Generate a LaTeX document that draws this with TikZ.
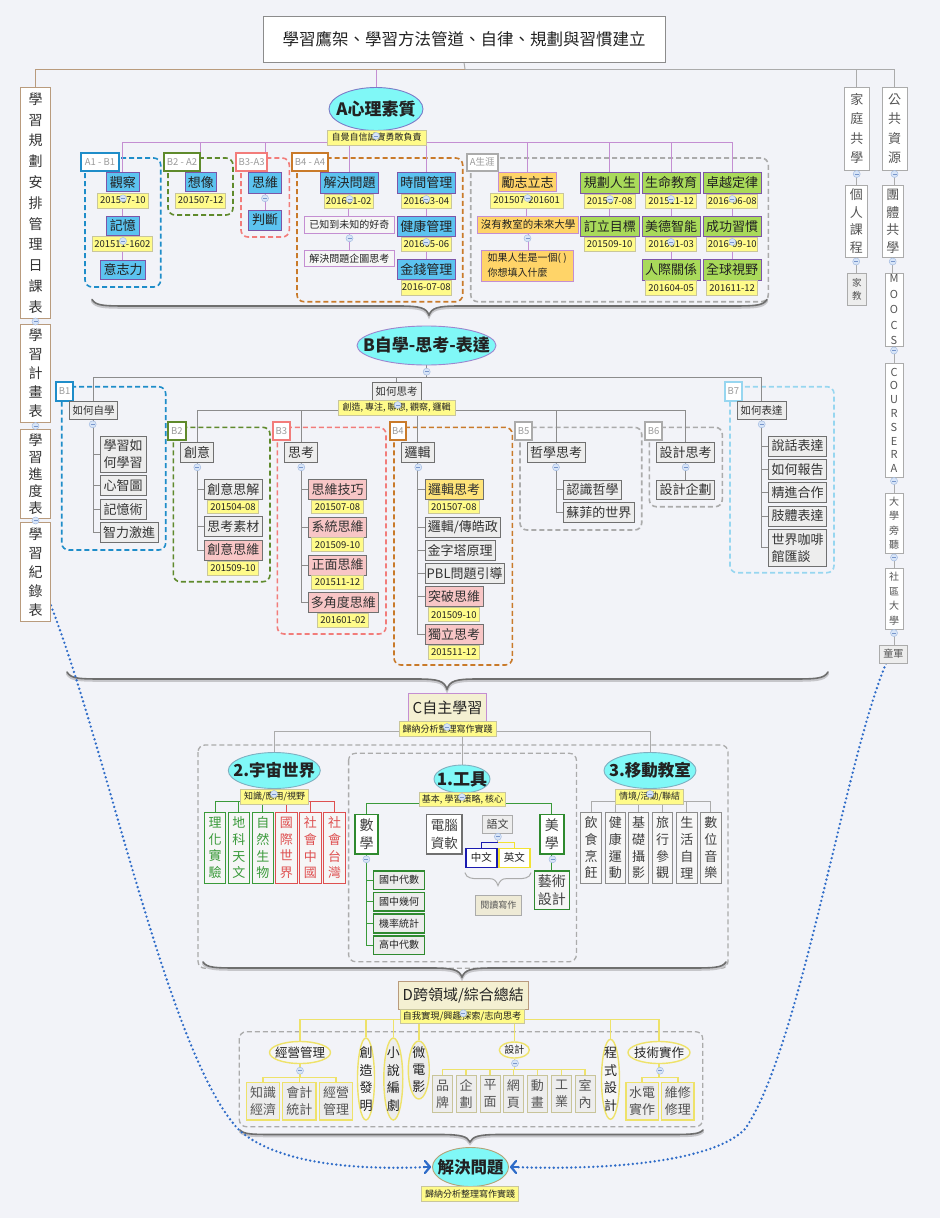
\documentclass[tikz,border=0pt]{standalone}
\usepackage{fontspec}
\setmainfont{Noto Sans CJK TC}
\usetikzlibrary{arrows.meta,shapes.geometric}
\pgfdeclarelayer{bg}
\pgfdeclarelayer{lines}
\pgfsetlayers{bg,lines,main}
\definecolor{bgc}{HTML}{F2F3F8}
\definecolor{txt}{HTML}{222222}
\definecolor{tanc}{HTML}{B99B7D}
\definecolor{purl}{HTML}{C48ED2}
\definecolor{cblue}{HTML}{5CC3F0}
\definecolor{cpur}{HTML}{7D55A8}
\definecolor{cyel}{HTML}{FFFB8A}
\definecolor{cyel2}{HTML}{FFE47A}
\definecolor{cyelb}{HTML}{C9C69C}
\definecolor{cgreen}{HTML}{A9DA5A}
\definecolor{corange}{HTML}{FFD468}
\definecolor{cgray}{HTML}{EDEDED}
\definecolor{cgrayb}{HTML}{707070}
\definecolor{cpink}{HTML}{F8C6C6}
\definecolor{clight}{HTML}{F6F6F6}
\definecolor{labtxt}{HTML}{9A9A9A}
\definecolor{gblue}{HTML}{1F8DC9}
\definecolor{ggreen}{HTML}{5F8A2C}
\definecolor{gred}{HTML}{F27C7A}
\definecolor{gorange}{HTML}{C97A2A}
\definecolor{ggray}{HTML}{ABABAB}
\definecolor{glblue}{HTML}{97D6F0}
\definecolor{lineg}{HTML}{8C8C8C}
\definecolor{ccyan}{HTML}{80F8F7}
\definecolor{colf}{HTML}{D8E5F7}
\definecolor{colb}{HTML}{A5BDE3}
\definecolor{colm}{HTML}{7896CC}
\definecolor{mgreen}{HTML}{3A9A3A}
\definecolor{mred}{HTML}{DE5050}
\definecolor{mgreenb}{HTML}{2F8A2F}
\definecolor{cbeige}{HTML}{F4F0D2}
\definecolor{cbeige2}{HTML}{EEEAD6}
\definecolor{dyel}{HTML}{EEE26A}
\definecolor{dgb}{HTML}{C8C49A}
\definecolor{dotblue}{HTML}{2F6CC8}
\definecolor{zhblue}{HTML}{1A1AB0}
\definecolor{enyel}{HTML}{F2E232}
\definecolor{rtext}{HTML}{555555}
\definecolor{ellA}{HTML}{7B7BC8}
\definecolor{ellB}{HTML}{9C86CF}
\definecolor{ellC}{HTML}{7FAFC0}
\definecolor{ellS}{HTML}{B3A275}
\definecolor{bracec}{HTML}{6E6E6E}
\definecolor{bracesc}{HTML}{C6C6CA}
\newcommand\setfs[2]{\fontsize{#1}{#2}\selectfont}
\newcommand\nbox[7]{\node[#2, minimum width={(#5)-(#3)}, minimum height={(#6)-(#4)}] (#1) at ({((#3)+(#5))/2},{((#4)+(#6))/2}) {#7};}
\newcommand\enode[8]{\node[#2, minimum width=#5, minimum height=#6] (#1) at (#3,#4) {};\node[inner sep=0pt, align=center, font=#7, text=txt] (#1t) at (#1.center) {#8};}
\newcommand\hbrace[6]{%
\draw[bracesh] (#1,#3+1.5) .. controls (#1+4,#4+1.5) and (#1+12,#4+1.5) .. (#1+40,#4+1.5) -- (#5-30,#4+1.5) .. controls (#5-8,#4+1.5) and (#5-3,#4+3.5) .. (#5,#6+1.5) .. controls (#5+3,#4+3.5) and (#5+8,#4+1.5) .. (#5+30,#4+1.5) -- (#2-40,#4+1.5) .. controls (#2-12,#4+1.5) and (#2-4,#4+1.5) .. (#2,#3+1.5);
\draw[bracemain] (#1,#3) .. controls (#1+4,#4) and (#1+12,#4) .. (#1+40,#4) -- (#5-30,#4) .. controls (#5-8,#4) and (#5-3,#4+2) .. (#5,#6) .. controls (#5+3,#4+2) and (#5+8,#4) .. (#5+30,#4) -- (#2-40,#4) .. controls (#2-12,#4) and (#2-4,#4) .. (#2,#3);}
\newcommand\vcon[3]{\draw[#1] (#2.south) -- (#2.south |- #3.north);}
\begin{document}
\begin{tikzpicture}[x=1pt,y=-1pt,
 nbase/.style={draw, rectangle, inner sep=0.5pt, text=txt},
 ncb/.style={nbase, fill=cblue, draw=cpur, line width=0.9pt, font=\setfs{13}{15}},
 ncg/.style={nbase, fill=cgreen, draw=cpur, line width=0.9pt, font=\setfs{13}{15}},
 nco/.style={nbase, fill=corange, draw=purl, line width=0.9pt, font=\setfs{13}{15}},
 nlt/.style={nbase, fill=clight, draw=purl, line width=0.9pt, font=\setfs{10}{12}},
 ndt/.style={nbase, fill=cyel, draw=cyelb, line width=0.5pt, font=\setfs{9.5}{11}},
 ntag/.style={nbase, fill=cyel, draw=cyelb, line width=0.5pt, font=\setfs{9}{10}},
 ngc/.style={nbase, fill=cgray, draw=cgrayb, line width=0.8pt, font=\setfs{13}{17}, text=black!80},
 npk/.style={ngc, fill=cpink},
 nglab/.style={nbase, fill=white, line width=1.8pt, text=labtxt, font=\setfs{9.5}{10}},
 ngbox/.style={rounded corners=7pt, line width=1.6pt, dash pattern=on 5pt off 3pt},
 nell/.style={ellipse, draw, inner sep=0pt, fill=ccyan, line width=0.9pt},
 lbox/.style={nbase, fill=white, draw=tanc, line width=0.9pt, align=center, text=black!80},
 rbox/.style={nbase, fill=white, draw=ggray, line width=0.8pt, align=center, text=rtext},
 nvb/.style={nbase, fill=clight, line width=1pt, align=center, font=\setfs{13}{16.8}},
 nmb/.style={nbase, fill=cgray, draw=mgreenb, line width=1.6pt, font=\setfs{10}{11}},
 dell/.style={ellipse, draw=dyel, fill=clight, line width=1.4pt, inner sep=0pt},
 dvb/.style={nbase, fill=cgray, draw=dyel, line width=1.4pt, align=center, font=\setfs{13}{17}, text=rtext},
 ncol/.style={circle, inner sep=0pt, minimum size=7pt, fill=colf, draw=colb, line width=0.5pt,
   path picture={\draw[colm, line width=0.7pt] ([xshift=-2pt]path picture bounding box.center) -- ([xshift=2pt]path picture bounding box.center);}},
 apl/.style={draw=purl, line width=1pt},
 bpl/.style={draw=lineg, line width=0.9pt},
 cpl/.style={draw=ggray, line width=1pt},
 tpl/.style={draw=tanc, line width=1pt},
 grl/.style={draw=mgreen, line width=1pt},
 rdl/.style={draw=mred, line width=1pt},
 ydl/.style={draw=dyel, line width=1.4pt},
 bracemain/.style={draw=bracec, line width=1.6pt, line cap=round},
 bracesh/.style={draw=bracesc, line width=2.6pt, line cap=round},
 dotline/.style={draw=dotblue, line width=2.6pt, dash pattern=on 0pt off 4.4pt, line cap=round},
 dottip/.style={draw=dotblue, line width=2.2pt, -{Straight Barb[length=5pt,width=12pt,line width=2.2pt,round]}}
]
\begin{pgfonlayer}{bg}
\fill[bgc] (0,0) rectangle (940,1218);
\end{pgfonlayer}
\useasboundingbox (0,0) rectangle (940,1218);

% ---------- title ----------
\nbox{title}{nbase, fill=white, draw=lineg, line width=0.8pt, font=\setfs{16.5}{18}}{263}{16}{665}{62}{學習鷹架、學習方法管道、自律、規劃與習慣建立}
\coordinate (Tb) at (465,69);

% ---------- left column ----------
\nbox{L1}{lbox, font=\setfs{14}{20.8}}{20.5}{87.5}{50.5}{318.5}{學\\習\\規\\劃\\安\\排\\管\\理\\日\\課\\表}
\nbox{L2}{lbox, font=\setfs{14}{19}}{20.5}{324.5}{50.5}{422.5}{學\\習\\計\\畫\\表}
\nbox{L3}{lbox, font=\setfs{14}{17}}{20.5}{429.5}{50.5}{518.5}{學\\習\\進\\度\\表}
\nbox{L4}{lbox, font=\setfs{14}{19}}{20.5}{522.5}{50.5}{621}{學\\習\\紀\\錄\\表}

% ---------- right columns ----------
\nbox{fam}{rbox, font=\setfs{13}{19.5}}{844}{87}{869.5}{170}{家\\庭\\共\\學}
\nbox{pub}{rbox, font=\setfs{13}{19.5}}{882}{87}{907}{170}{公\\共\\資\\源}
\nbox{per}{rbox, font=\setfs{13}{17.5}}{845.5}{185.5}{867}{257}{個\\人\\課\\程}
\nbox{tut}{rbox, fill=cgray, font=\setfs{9.5}{13}}{847.5}{273.5}{866}{305}{家\\教}
\nbox{grp}{rbox, font=\setfs{13}{17.5}}{882}{185.5}{903.5}{257}{團\\體\\共\\學}
\nbox{moocs}{rbox, font=\setfs{11}{15.5}}{885}{273.5}{903}{346.5}{M\\O\\O\\C\\S}
\nbox{cour}{rbox, font=\setfs{11}{13.8}}{885}{363.5}{903}{477}{C\\O\\U\\R\\S\\E\\R\\A}
\nbox{aud}{rbox, font=\setfs{10}{14.5}}{885}{493}{903}{553}{大\\學\\旁\\聽}
\nbox{comm}{rbox, font=\setfs{10}{14.5}}{885}{568}{903}{629}{社\\區\\大\\學}
\nbox{scout}{rbox, fill=cgray, font=\setfs{10}{12}}{879.5}{645}{907}{663}{童軍}

% ---------- A ----------
\enode{Aell}{nell, draw=ellA}{376}{109}{94}{43}{\bfseries\setfs{17}{18}}{A心理素質}
\nbox{Atag}{ntag}{327}{130}{426}{145}{自覺自信誠實勇敢負責}
\coordinate (Ab) at (376,142);

\nbox{gA1}{nglab, draw=gblue}{81}{153}{119}{171}{A1 - B1}
\nbox{obs}{ncb}{106.7}{172.7}{139}{191.7}{觀察}
\nbox{obsd}{ndt}{97}{193}{148.7}{208}{201507-10}
\nbox{mem}{ncb}{106.7}{216.7}{139}{235}{記憶}
\nbox{memd}{ndt}{92}{236.7}{152.7}{251.7}{201511-1602}
\nbox{will}{ncb}{100.7}{260}{145.7}{279.3}{意志力}

\nbox{gA2}{nglab, draw=ggreen}{164}{153}{200}{171}{B2 - A2}
\nbox{ima}{ncb}{185}{172.7}{216.7}{191.7}{想像}
\nbox{imad}{ndt}{175.7}{193}{225.7}{208}{201507-12}

\nbox{gA3}{nglab, draw=gred}{236}{153}{267.3}{171}{B3-A3}
\nbox{thk}{ncb}{248.3}{172.7}{281.7}{193.3}{思維}
\nbox{jud}{ncb}{248.3}{210}{281.7}{230}{判斷}

\nbox{gA4}{nglab, draw=gorange}{291.7}{153}{328.3}{171}{B4 - A4}
\nbox{prob}{ncb}{320.7}{172.7}{378.3}{193.3}{解決問題}
\nbox{probd}{ndt}{324}{194}{373.3}{208}{201601-02}
\nbox{cur}{nlt}{304.3}{216.7}{394.3}{233.3}{已知到未知的好奇}
\nbox{att}{nlt}{304.3}{250}{394.3}{266.7}{解決問題企圖思考}
\nbox{time}{ncb}{397.7}{172.7}{455}{193.3}{時間管理}
\nbox{timed}{ndt}{401}{194}{451.7}{208}{201603-04}
\nbox{heal}{ncb}{397.7}{216}{455}{236.7}{健康管理}
\nbox{heald}{ndt}{401}{237.3}{451.7}{251.7}{201605-06}
\nbox{mon}{ncb}{397.7}{259.3}{455}{279.3}{金錢管理}
\nbox{mond}{ndt}{401}{280}{451.7}{295}{2016-07-08}

\nbox{gA5}{nglab, draw=ggray}{466.7}{154}{497.7}{170.7}{A生涯}
\nbox{asp}{nco}{498.3}{172.7}{556.7}{191.7}{勵志立志}
\nbox{aspd}{ndt}{490}{193}{563.3}{208}{201507-201601}
\nbox{uni}{nco, font=\setfs{10.5}{12}}{477.7}{216}{578.3}{233.3}{沒有教室的未來大學}
\nbox{life}{nco, font=\setfs{10}{15}, align=left}{481}{250}{573.3}{281}{如果人生是一個( )\\你想填入什麼}
\nbox{plan}{ncg}{580.7}{172.7}{639}{193.3}{規劃人生}
\nbox{pland}{ndt}{584.3}{194.3}{635}{208}{201507-08}
\nbox{goal}{ncg}{580.7}{216.7}{639}{236.7}{訂立目標}
\nbox{goald}{ndt}{584.3}{237.3}{635}{251.7}{201509-10}
\nbox{edu}{ncg}{642.3}{172.7}{700}{193.3}{生命教育}
\nbox{edud}{ndt}{645.7}{194.3}{696.7}{208}{201511-12}
\nbox{vir}{ncg}{642.3}{216.7}{700}{236.7}{美德智能}
\nbox{vird}{ndt}{645.7}{237.3}{696.7}{251.7}{201601-03}
\nbox{rel}{ncg}{642.3}{259.3}{700}{280}{人際關係}
\nbox{reld}{ndt}{645.7}{280.7}{696.7}{295}{201604-05}
\nbox{exc}{ncg}{703.3}{172.7}{761}{193.3}{卓越定律}
\nbox{excd}{ndt}{706.7}{194.3}{757.7}{208}{2016-06-08}
\nbox{hab}{ncg}{703.3}{216.7}{761}{236.7}{成功習慣}
\nbox{habd}{ndt}{706.7}{237.3}{757.7}{251.7}{2016-09-10}
\nbox{glo}{ncg}{703.3}{259.3}{761}{280}{全球視野}
\nbox{glod}{ndt}{706.7}{280.7}{757.7}{295}{201611-12}

% ---------- B ----------
\enode{Bell}{nell, draw=ellB}{426.5}{345.5}{139}{39}{\bfseries\setfs{17}{18}}{B自學-思考-表達}
\coordinate (Bb) at (426.5,377.3);

\nbox{gB1}{nglab, draw=gblue}{56}{381.7}{73.3}{400.7}{B1}
\nbox{hs}{ngc, font=\setfs{10.5}{12}}{69.3}{401.7}{117.7}{419.3}{如何自學}
\nbox{hs1}{ngc, align=left}{100}{436}{146}{472.7}{學習如\\何學習}
\nbox{hs2}{ngc}{100}{475.7}{146}{495.7}{心智圖}
\nbox{hs3}{ngc}{100}{499.3}{146}{519.3}{記憶術}
\nbox{hs4}{ngc}{100}{522.3}{158.3}{542.3}{智力激進}

\nbox{ht}{ngc, font=\setfs{10.5}{12}}{372.3}{382.7}{421}{400.7}{如何思考}
\nbox{httag}{ntag}{338.3}{400.7}{455}{415}{創造, 專注, 聯想, 觀察, 邏輯}
\coordinate (Hb) at (396.7,410);

\nbox{gB2}{nglab, draw=ggreen}{168.3}{422.3}{185.7}{440}{B2}
\nbox{cre}{ngc}{180.7}{442.7}{213.3}{462.7}{創意}
\nbox{cre1}{ngc}{204.3}{479.3}{262.3}{499}{創意思解}
\nbox{cre1d}{ndt}{207.7}{500}{258.3}{513.3}{201504-08}
\nbox{cre2}{ngc}{204.3}{516.7}{262.3}{536.7}{思考素材}
\nbox{cre3}{npk}{204.3}{540}{262.3}{560}{創意思維}
\nbox{cre3d}{ndt}{207.7}{561}{258.3}{575}{201509-10}

\nbox{gB3}{nglab, draw=gred}{272.7}{422.3}{290}{440}{B3}
\nbox{tk}{ngc}{284.3}{442.7}{317.7}{462.7}{思考}
\nbox{tk1}{npk}{308.3}{479.3}{366.7}{499.3}{思維技巧}
\nbox{tk1d}{ndt}{311.7}{500}{363.3}{513.3}{201507-08}
\nbox{tk2}{npk}{308.3}{517}{366.7}{537}{系統思維}
\nbox{tk2d}{ndt}{311.7}{537.7}{363.3}{551.7}{201509-10}
\nbox{tk3}{npk}{308.3}{555}{366.7}{575}{正面思維}
\nbox{tk3d}{ndt}{311.7}{575.7}{363.3}{589.3}{201511-12}
\nbox{tk4}{npk}{308.3}{592.7}{378.3}{612.7}{多角度思維}
\nbox{tk4d}{ndt}{317.7}{613.3}{368.3}{627.3}{201601-02}

\nbox{gB4}{nglab, draw=gorange}{389.7}{422.3}{406}{440}{B4}
\nbox{lg}{ngc}{401}{442.7}{434.3}{462.7}{邏輯}
\nbox{lg1}{ngc, fill=cyel2}{425}{479.3}{483.3}{499.3}{邏輯思考}
\nbox{lg1d}{ndt}{428.3}{500}{479.3}{513.3}{201507-08}
\nbox{lg2}{ngc}{425}{517}{500.7}{537}{邏輯/傳皓政}
\nbox{lg3}{ngc}{425}{540.7}{495}{560}{金字塔原理}
\nbox{lg4}{ngc}{425}{563.3}{504.3}{583.3}{PBL問題引導}
\nbox{lg5}{npk}{425}{586.7}{483.3}{606.7}{突破思維}
\nbox{lg5d}{ndt}{428.3}{607.7}{479.3}{621.7}{201509-10}
\nbox{lg6}{npk}{425}{624.3}{483.3}{644.3}{獨立思考}
\nbox{lg6d}{ndt}{428.3}{645}{479.3}{659}{201511-12}

\nbox{gB5}{nglab, draw=ggray}{515}{422.3}{532.3}{440}{B5}
\nbox{ph}{ngc}{527.3}{442.7}{585}{462.7}{哲學思考}
\nbox{ph1}{ngc}{563.3}{480}{621.7}{499.3}{認識哲學}
\nbox{ph2}{ngc}{563.3}{502.7}{634.3}{522.7}{蘇菲的世界}

\nbox{gB6}{nglab, draw=ggray}{645}{422.3}{662.3}{440}{B6}
\nbox{ds}{ngc}{656.7}{442.7}{714.3}{462.7}{設計思考}
\nbox{ds1}{ngc}{656.7}{480}{714.3}{499.3}{設計企劃}

\nbox{gB7}{nglab, draw=glblue}{725}{382.3}{741.7}{400.7}{B7}
\nbox{ex}{ngc, font=\setfs{10.5}{12}}{737.3}{401.7}{786}{419.3}{如何表達}
\nbox{ex1}{ngc}{768.3}{436}{826.7}{456}{說話表達}
\nbox{ex2}{ngc}{768.3}{459.3}{826.7}{479.3}{如何報告}
\nbox{ex3}{ngc}{768.3}{482.7}{826.7}{502.7}{精進合作}
\nbox{ex4}{ngc}{768.3}{506}{826.7}{526}{肢體表達}
\nbox{ex5}{ngc, align=left}{768.3}{529.3}{826.7}{566}{世界咖啡\\館匯談}

% ---------- C ----------
\nbox{Cbox}{nbase, fill=cbeige, draw=purl, line width=1pt, font=\setfs{15}{16}}{408.6}{693.3}{486.4}{721.7}{C自主學習}
\nbox{Ctag}{ntag}{399}{721.7}{496}{736}{歸納分析整理寫作實踐}
\coordinate (Cb) at (447,731.7);

\enode{U}{nell, draw=ellC}{274.3}{770.5}{92}{36}{\bfseries\setfs{16.5}{17}}{2.宇宙世界}
\nbox{Utag}{ntag}{240.7}{789.3}{308.6}{804}{知識/應用/視野}
\coordinate (Ub) at (274.3,801.7);
\nbox{u1}{nvb, draw=mgreen, text=mgreen}{204.3}{812.3}{225.7}{883.3}{理\\化\\實\\驗}
\nbox{u2}{nvb, draw=mgreen, text=mgreen}{228.2}{812.3}{249.6}{883.3}{地\\科\\天\\文}
\nbox{u3}{nvb, draw=mgreen, text=mgreen}{252.1}{812.3}{273.6}{883.3}{自\\然\\生\\物}
\nbox{u4}{nvb, draw=mred, text=mred}{275.7}{812.3}{297.1}{883.3}{國\\際\\世\\界}
\nbox{u5}{nvb, draw=mred, text=mred}{299.6}{812.3}{321}{883.3}{社\\會\\中\\國}
\nbox{u6}{nvb, draw=mred, text=mred}{323.9}{812.3}{345.4}{883.3}{社\\會\\台\\灣}

\enode{T}{nell, draw=ellC}{462}{779}{56}{28}{\bfseries\setfs{17}{18}}{1.工具}
\nbox{Ttag}{ntag}{419.3}{792.7}{505.7}{806}{基本, 學習策略, 核心}
\coordinate (Tbb) at (462,803.3);
\nbox{math}{nbase, fill=white, draw=mgreenb, line width=1.6pt, align=center, font=\setfs{14}{18}, text=black!75}{355}{814.3}{378.2}{854}{數\\學}
\nbox{m1}{nmb}{373.6}{870.7}{424.6}{889.3}{國中代數}
\nbox{m2}{nmb}{373.6}{892.3}{424.6}{911}{國中幾何}
\nbox{m3}{nmb}{373.6}{914}{424.6}{932.7}{機率統計}
\nbox{m4}{nmb}{373.6}{935.7}{424.6}{954.3}{高中代數}
\nbox{comp}{nbase, fill=white, draw=cgrayb, line width=1.4pt, align=center, font=\setfs{13.5}{18}, text=black!75}{426.4}{814.3}{462.1}{854}{電腦\\資軟}
\nbox{lang}{nbase, fill=cgray, draw=ggray, line width=1pt, font=\setfs{11}{12}, text=black!75}{482.9}{815}{512.1}{833.3}{語文}
\coordinate (Lb) at (497.5,842.7);
\nbox{zh}{nbase, fill=white, draw=zhblue, line width=1.6pt, font=\setfs{10.5}{12}}{465.7}{848.3}{496.8}{867.3}{中文}
\nbox{en}{nbase, fill=white, draw=enyel, line width=1.6pt, font=\setfs{10.5}{12}}{498.9}{848.3}{530}{867.3}{英文}
\nbox{rw}{nbase, fill=cbeige2, draw=ggray, line width=0.8pt, font=\setfs{9}{10}, text=rtext}{475.7}{895}{521}{915}{閱讀寫作}
\nbox{aes}{nbase, fill=white, draw=mgreenb, line width=1.6pt, align=center, font=\setfs{14}{18}, text=black!75}{540}{814.3}{563.9}{854}{美\\學}
\nbox{art}{nbase, fill=clight, draw=mgreenb, line width=1.6pt, align=center, font=\setfs{14}{18}, text=black!75}{534.3}{870.7}{569.3}{909.3}{藝術\\設計}

\enode{M}{nell, draw=ellC}{650}{770.5}{92}{36}{\bfseries\setfs{16.5}{17}}{3.移動教室}
\nbox{Mtag}{ntag}{615.7}{789.3}{683.6}{804}{情境/活動/聯結}
\coordinate (Mb) at (650,801.7);
\nbox{v1}{nvb, draw=lineg, text=black!75}{580.7}{812.3}{601.4}{883.3}{飲\\食\\烹\\飪}
\nbox{v2}{nvb, draw=lineg, text=black!75}{605}{812.3}{625.7}{883.3}{健\\康\\運\\動}
\nbox{v3}{nvb, draw=lineg, text=black!75}{628.2}{812.3}{648.9}{883.3}{基\\礎\\攝\\影}
\nbox{v4}{nvb, draw=lineg, text=black!75}{652.1}{812.3}{672.9}{883.3}{旅\\行\\參\\觀}
\nbox{v5}{nvb, draw=lineg, text=black!75}{676.4}{812.3}{697.1}{883.3}{生\\活\\自\\理}
\nbox{v6}{nvb, draw=lineg, text=black!75}{700.4}{812.3}{721.1}{883.3}{數\\位\\音\\樂}

% ---------- D ----------
\nbox{Dbox}{nbase, fill=cbeige, draw=tanc, line width=1pt, font=\setfs{15}{16}}{398.3}{981.7}{528.3}{1009.3}{D跨領域/綜合總結}
\nbox{Dtag}{ntag, font=\setfs{9.3}{10}}{400}{1009.3}{524}{1023.3}{自我實現/興趣探索/志向思考}
\coordinate (Db) at (463.3,1019.3);
\enode{mg}{dell}{300}{1052.5}{61}{22}{\setfs{12.5}{13}}{經營管理}
\coordinate (MGb) at (300,1077.3);
\nbox{mg1}{dvb}{246.7}{1082.7}{279.3}{1120}{知識\\經濟}
\nbox{mg2}{dvb}{282.7}{1082.7}{316}{1120}{會計\\統計}
\nbox{mg3}{dvb}{319.3}{1082.7}{352.7}{1120}{經營\\管理}
\enode{inv}{dell}{366}{1079}{17}{82}{\setfs{13}{17.5}}{創\\造\\發\\明}
\enode{nov}{dell, fill=cgray}{393.3}{1079}{19}{82}{\setfs{13}{17.5}}{小\\說\\編\\劇}
\enode{film}{dell, fill=cgray}{418.8}{1070}{21}{58}{\setfs{13}{17}}{微\\電\\影}
\enode{des}{dell}{514.3}{1050}{30}{16}{\setfs{10}{11}}{設計}
\coordinate (DSb) at (514.3,1069.3);
\nbox{d1}{dvb, draw=dgb, line width=1pt}{432.7}{1075}{452.7}{1112.7}{品\\牌}
\nbox{d2}{dvb, draw=dgb, line width=1pt}{456}{1075}{476}{1112.7}{企\\劃}
\nbox{d3}{dvb, draw=dgb, line width=1pt}{480}{1075}{500}{1112.7}{平\\面}
\nbox{d4}{dvb, draw=dgb, line width=1pt}{503.3}{1075}{523.3}{1112.7}{網\\頁}
\nbox{d5}{dvb, draw=dgb, line width=1pt}{527.3}{1075}{547.3}{1112.7}{動\\畫}
\nbox{d6}{dvb, draw=dgb, line width=1pt}{551.7}{1075}{571.7}{1112.7}{工\\業}
\nbox{d7}{dvb, draw=dgb, line width=1pt}{575}{1075}{595}{1112.7}{室\\內}
\enode{prg}{dell}{610.5}{1079.3}{18}{80}{\setfs{13}{17.5}}{程\\式\\設\\計}
\enode{tech}{dell}{659}{1052.5}{62}{22}{\setfs{12.5}{13}}{技術實作}
\coordinate (TEb) at (659,1077.3);
\nbox{t1}{dvb}{626}{1082.7}{658.3}{1120}{水電\\實作}
\nbox{t2}{dvb}{661.7}{1082.7}{694}{1120}{維修\\修理}

% ---------- bottom ----------
\enode{sol}{nell, draw=ellS}{470.5}{1167}{76}{39}{\bfseries\setfs{16.5}{17}}{解決問題}
\nbox{soltag}{ntag}{421.7}{1186.7}{518.3}{1201}{歸納分析整理寫作實踐}

% ---------- collapse markers ----------
\foreach \cx/\cy [count=\ci] in {35.5/321.5,35.5/426,35.5/520.5,
 856.7/174,856.2/261.5,894.5/174,892.7/261.5,894/350.5,894/481,894/557.5,894/633,
 376/136,123/198.3,123/241,265/198.3,349.5/199,349.5/238.3,426.3/199,426.3/242,
 527.5/198,527.5/238.3,610/199,671/199,671/242,732.3/199,732.3/242,
 426.7/371.7,92.7/424.3,397.7/405,197.3/467.3,301.3/467.3,418.3/467.3,556/467.3,685.7/467.3,761.7/424.3,
 447/727,274/794,462/797,650/794,366.4/859.3,497.9/836.7,552.5/859.3,
 463.3/1013.3,300/1070.7,515/1063.3,660/1070.7}
 \node[ncol] (col\ci) at (\cx,\cy) {};

% ---------- lines layer ----------
\begin{pgfonlayer}{lines}
% group boxes A
\draw[ngbox, draw=gblue] (85,158) rectangle (160.7,287);
\draw[ngbox, draw=ggreen] (168,158) rectangle (233,215);
\draw[ngbox, draw=gred] (241,158) rectangle (289.3,237);
\draw[ngbox, draw=gorange] (297,158) rectangle (462.7,301.7);
\draw[ngbox, draw=ggray] (470.7,158) rectangle (768.3,301.7);
% group boxes B
\draw[ngbox, draw=gblue] (61.7,386.7) rectangle (165.7,550);
\draw[ngbox, draw=ggreen] (173.3,427.3) rectangle (270,581.7);
\draw[ngbox, draw=gred] (277.3,427.3) rectangle (386,634);
\draw[ngbox, draw=gorange] (394,427.3) rectangle (512.3,665);
\draw[ngbox, draw=ggray] (520,427.3) rectangle (641.7,530);
\draw[ngbox, draw=ggray] (649.3,427.3) rectangle (722.3,506.7);
\draw[ngbox, draw=glblue] (730,386.7) rectangle (834,572.7);
% group boxes C, D
\draw[ngbox, draw=ggray, line width=1.3pt] (198,745) rectangle (728,968.3);
\draw[ngbox, draw=ggray, line width=1.3pt] (348.6,753.3) rectangle (576.4,961.7);
\draw[ngbox, draw=ggray, line width=1.3pt] (239.3,1031.7) rectangle (702.7,1126.7);

% top connectors
\draw[apl] (Aell.north) -- (Aell.north |- Tb);
\draw[cpl] (title.south) -- (Tb);
\draw[tpl] (Tb) -| (L1.north);
\draw[cpl] (Tb) -| (fam.north);
\draw[cpl] (Tb) -| (pub.north);
\vcon{tpl}{L1}{L2}\vcon{tpl}{L2}{L3}\vcon{tpl}{L3}{L4}
\vcon{cpl}{fam}{per}\vcon{cpl}{per}{tut}
\vcon{cpl}{pub}{grp}\vcon{cpl}{grp}{moocs}\vcon{cpl}{moocs}{cour}\vcon{cpl}{cour}{aud}\vcon{cpl}{aud}{comm}\vcon{cpl}{comm}{scout}

% A connectors
\draw[apl] (Aell.south) -- (Ab);
\foreach \nn in {obs,ima,thk,prob,time,asp,plan,edu,exc} \draw[apl] (Ab) -| (\nn.north);
\vcon{apl}{obsd}{mem}\vcon{apl}{memd}{will}\vcon{apl}{thk}{jud}
\vcon{apl}{probd}{cur}\vcon{apl}{cur}{att}
\vcon{apl}{timed}{heal}\vcon{apl}{heald}{mon}
\vcon{apl}{aspd}{uni}\vcon{apl}{uni}{life}
\vcon{apl}{pland}{goal}\vcon{apl}{edud}{vir}\vcon{apl}{vird}{rel}
\vcon{apl}{excd}{hab}\vcon{apl}{habd}{glo}

% B connectors
\draw[bpl] (Bell.south) -- (Bb);
\draw[bpl] (Bb) -| (hs.north);
\draw[bpl] (Bb) -| (ht.north);
\draw[bpl] (Bb) -| (ex.north);
\draw[bpl] (ht.south) -- (Hb);
\foreach \nn in {cre,tk,lg,ph,ds} \draw[bpl] (Hb) -| (\nn.north);
\foreach \nn in {hs1,hs2,hs3,hs4} \draw[bpl] (hs.south) |- (\nn.west);
\foreach \nn in {cre1,cre2,cre3} \draw[bpl] (cre.south) |- (\nn.west);
\foreach \nn in {tk1,tk2,tk3,tk4} \draw[bpl] (tk.south) |- (\nn.west);
\foreach \nn in {lg1,lg2,lg3,lg4,lg5,lg6} \draw[bpl] (lg.south) |- (\nn.west);
\foreach \nn in {ph1,ph2} \draw[bpl] (ph.south) |- (\nn.west);
\vcon{bpl}{ds}{ds1}
\foreach \nn in {ex1,ex2,ex3,ex4,ex5} \draw[bpl] (ex.south) |- (\nn.west);

% C connectors
\draw[cpl] (Cbox.south) -- (Cb);
\draw[cpl] (Cb) -| (U.north);
\draw[cpl] (Cb) -| (M.north);
\draw[cpl] (Cb) -| (T.north);
\draw[cpl] (U.south) -- (Ub);
\foreach \nn in {u1,u2,u3} \draw[grl] (Ub) -| (\nn.north);
\foreach \nn in {u4,u5,u6} \draw[rdl] (Ub) -| (\nn.north);
\draw[grl] (T.south) -- (Tbb);
\draw[grl] (Tbb) -| (math.north);
\draw[grl] (Tbb) -| (aes.north);
\foreach \nn in {m1,m2,m3,m4} \draw[grl] (math.south) |- (\nn.west);
\draw[cpl] (lang.south) -- (Lb);
\draw[draw=zhblue, line width=1pt] (Lb) -| (zh.north);
\draw[draw=enyel, line width=1pt] (Lb) -| (en.north);
\vcon{grl}{aes}{art}
\draw[cpl] (M.south) -- (Mb);
\foreach \nn in {v1,v2,v3,v4,v5,v6} \draw[cpl] (Mb) -| (\nn.north);
% small brace under 中文 / 英文
\draw[draw=ggray, line width=1pt] (zh.south west) ++(0,4.5) .. controls +(1.3,6) and +(-4,0) .. ++(12.3,6) -- ++(12,0) .. controls +(5,0) and +(-1.8,-5) .. ++(8.8,7) .. controls +(1.8,-5) and +(-5,0) .. ++(8.8,-7) -- ++(12,0) .. controls +(4,0) and +(-1.3,6) .. ++(12.3,-6);

% D connectors
\draw[ydl] (Dbox.south) -- (Db);
\foreach \nn in {mg,inv,nov,film,des,prg,tech} \draw[ydl] (Db) -| (\nn.north);
\draw[ydl] (mg.south) -- (MGb);
\foreach \nn in {mg1,mg2,mg3} \draw[ydl] (MGb) -| (\nn.north);
\draw[ydl] (des.south) -- (DSb);
\foreach \nn in {d1,d2,d3,d4,d5,d6,d7} \draw[ydl] (DSb) -| (\nn.north);
\draw[ydl] (tech.south) -- (TEb);
\foreach \nn in {t1,t2} \draw[ydl] (TEb) -| (\nn.north);

% braces
\hbrace{92}{767}{299.5}{306}{429}{315}
\hbrace{67}{828}{672}{679}{447}{689}
\hbrace{203}{726}{962}{968}{462}{977}
\hbrace{240}{703}{1130}{1134.5}{470}{1142}

% dotted arrows
\draw[dotline] ([yshift=16pt]L4.south east) .. controls (110,760) and (170,1060) .. (240,1131) .. controls (280,1165) and (360,1170) .. ([xshift=-4pt]sol.west);
\draw[dottip] ([xshift=-9pt]sol.west) -- ([xshift=-1pt]sol.west);
\draw[dotline] ([xshift=7pt]scout.south west) .. controls (845,760) and (800,1050) .. (745,1129) .. controls (710,1165) and (590,1170) .. ([xshift=4pt]sol.east);
\draw[dottip] ([xshift=9pt]sol.east) -- ([xshift=1pt]sol.east);
\end{pgfonlayer}
\end{tikzpicture}
\end{document}
